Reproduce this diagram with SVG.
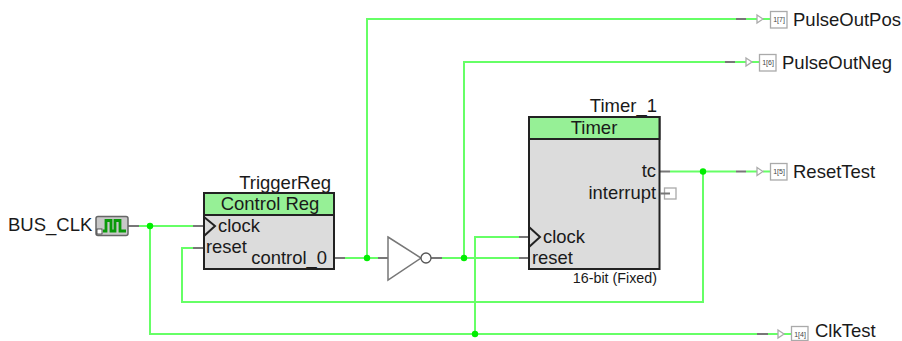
<svg xmlns="http://www.w3.org/2000/svg" width="902" height="341" viewBox="0 0 902 341">
<style>
text{font-family:"Liberation Sans",Arial,sans-serif;fill:#1a1a1a}
.t{font-size:18.500px}
.h{font-size:18.500px;text-anchor:middle}
.p{font-size:18.400px}
.r{text-anchor:end}
.w{fill:none;stroke:#66ff66;stroke-width:2}
.g{fill:none;stroke:#777;stroke-width:2}
.j{fill:#00ee00}
.body{fill:#dcdcdc;stroke:#222;stroke-width:2}
.head{fill:#96f096;stroke:#222;stroke-width:2}
.clk{fill:none;stroke:#222;stroke-width:2}
.pin{fill:#fff;stroke:#aaa;stroke-width:1.300}
.tri{fill:#fff;stroke:#aaa;stroke-width:1.300}
.n{font-size:7px;text-anchor:middle;fill:#444}
</style>
<g id="connectors">
<path class="w" d="M139 226H193M150 226V334H757M193 248H182V302H703V171.500M670 171.500H736M345 258H378M367 258V19H736M442 258H519M464 258V62H725M519 237H475V334"/>
<path class="w" d="M746 19H757M763 19H770M735 62H746M752 62H759M746 171.500H757M763 171.500H770M768 334H778M784 334H791"/>
<path class="g" d="M128 226H139M193 226H204M193 248H204M334 258H345M378 258H388M431 258H442M519 237H529M519 258H529M660 171.500H670M736 19H746M725 62H735M736 171.500H746M757 334H768"/>
<circle class="j" cx="150" cy="226" r="3.200"/>
<circle class="j" cx="367" cy="258" r="3.200"/>
<circle class="j" cx="464" cy="258" r="3.200"/>
<circle class="j" cx="475" cy="334" r="3.200"/>
<circle class="j" cx="703" cy="171.500" r="3.200"/>
</g>
<g id="BUS_CLK">
<text class="t" x="8" y="231">BUS_CLK</text>
<rect x="96" y="216.500" width="32" height="19" rx="2" fill="#c8c8c8" stroke="#666" stroke-width="1.500"/>
<path d="M103 231H106V220.500H111V231H115V220.500H120V231H126" fill="none" stroke="#0a9a0a" stroke-width="2.800"/>
<rect x="97" y="229" width="5" height="5" fill="#fff" stroke="#333" stroke-width="0.800"/>
</g>
<g id="TriggerReg">
<text class="t r" x="331" y="189">TriggerReg</text>
<rect class="body" x="204" y="193" width="130" height="76"/>
<rect class="head" x="204" y="193" width="130" height="22"/>
<text class="h" x="270" y="210">Control Reg</text>
<path class="clk" d="M204 217L215 226L204 236"/>
<text class="p" x="218" y="231.500">clock</text>
<text class="p" x="206" y="253">reset</text>
<text class="p r" x="327" y="264">control_0</text>
</g>
<g id="Inverter">
<path d="M388 237L421 258L388 280Z" fill="#fff" stroke="#777" stroke-width="1.500"/>
<circle cx="426" cy="258" r="5" fill="#fff" stroke="#555" stroke-width="1.300"/>
</g>
<g id="Timer_1">
<text class="t r" x="657" y="112">Timer_1</text>
<rect class="body" x="529" y="117" width="130.500" height="152"/>
<rect class="head" x="529" y="117" width="130.500" height="22"/>
<text class="h" x="594" y="134">Timer</text>
<path class="clk" d="M529 227L540 237L529 247"/>
<text class="p" x="543" y="243">clock</text>
<text class="p" x="532" y="264">reset</text>
<text class="p r" x="656" y="177">tc</text>
<text class="p r" x="656" y="199">interrupt</text>
<text x="657" y="283" font-size="14.300" text-anchor="end">16-bit (Fixed)</text>
<rect class="pin" x="664.500" y="188" width="11.500" height="11"/>
<path class="g" d="M660 193.500H670" stroke-width="1.500"/>
</g>
<g id="PulseOutPos">
<path class="tri" d="M757 15L763 19L757 23Z"/>
<rect class="pin" x="770.500" y="11.500" width="16.500" height="16.500"/>
<text class="n" x="779" y="22">1[7]</text>
<text class="t" x="793" y="25.500">PulseOutPos</text>
</g>
<g id="PulseOutNeg">
<path class="tri" d="M746 58L752 62L746 66Z"/>
<rect class="pin" x="759.500" y="54.500" width="16.500" height="16.500"/>
<text class="n" x="768" y="65">1[6]</text>
<text class="t" x="782" y="68.500">PulseOutNeg</text>
</g>
<g id="ResetTest">
<path class="tri" d="M757 167.500L763 171.500L757 175.500Z"/>
<rect class="pin" x="770.500" y="163.500" width="16.500" height="16.500"/>
<text class="n" x="779" y="174">1[5]</text>
<text class="t" x="793" y="177.500">ResetTest</text>
</g>
<g id="ClkTest">
<path class="tri" d="M778 330L784 334L778 338Z"/>
<rect class="pin" x="791.500" y="326.500" width="16.500" height="14"/>
<text class="n" x="800" y="337">1[4]</text>
<text class="t" x="815" y="337">ClkTest</text>
</g>
</svg>
